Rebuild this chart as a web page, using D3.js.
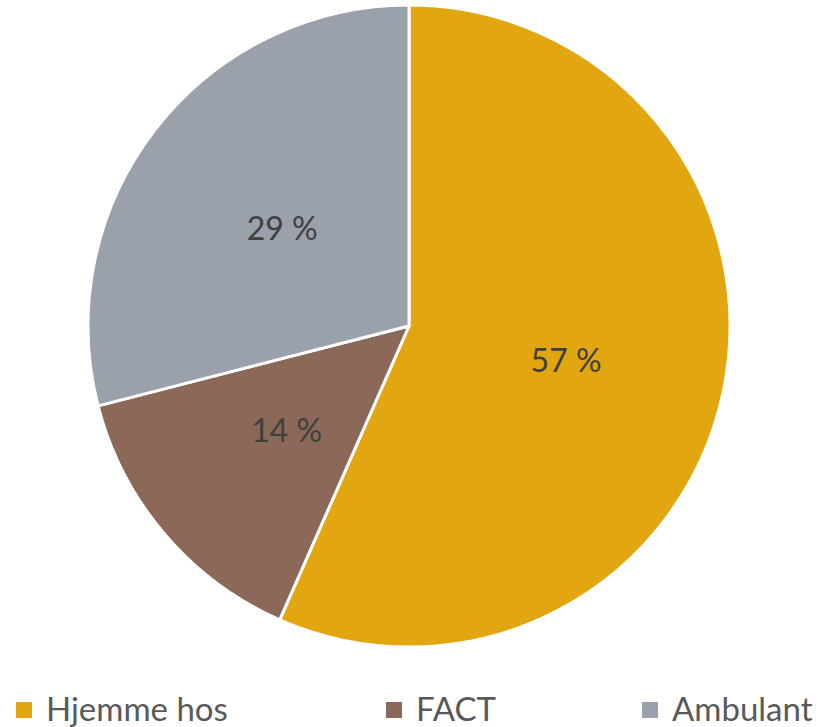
<!DOCTYPE html>
<html>
<head>
<meta charset="utf-8">
<script src="https://cdn.jsdelivr.net/npm/d3@7"></script>
<style>
  html, body { margin: 0; padding: 0; background: #fff; }
  svg { display: block; }
</style>
</head>
<body>
<svg id="chart" width="825" height="727"></svg>
<script>
const categories = ["Hjemme hos", "FACT", "Ambulant"];
const values = [56.6, 14.4, 29.0];
const colors = ["#E2A610", "#8B6858", "#9AA1AB"];

const svg = d3.select("#chart");
const cx = 409, cy = 326, R = 321;
const font = "Lato, 'Open Sans', 'Liberation Sans', sans-serif";

const pie = d3.pie().sort(null).value(d => d.v);
const data = categories.map((c, i) => ({ c, v: values[i], col: colors[i] }));
const arcs = pie(data);
const arc = d3.arc().innerRadius(0).outerRadius(R);
const labelArc = d3.arc().innerRadius(R * 0.5).outerRadius(R * 0.5);

const g = svg.append("g").attr("transform", `translate(${cx},${cy})`);
g.selectAll("path").data(arcs).join("path")
  .attr("d", arc)
  .attr("fill", d => d.data.col)
  .attr("stroke", "#fff")
  .attr("stroke-width", 3)
  .attr("stroke-linejoin", "round");

g.selectAll("text").data(arcs).join("text")
  .attr("transform", d => `translate(${labelArc.centroid(d)})`)
  .attr("text-anchor", "middle")
  .attr("dominant-baseline", "central")
  .attr("font-family", font)
  .attr("font-size", 32)
  .attr("fill", "#404040")
  .text(d => d3.format(".0f")(d.data.v) + " %");

// legend
const legendX = [16, 386, 642];
const lg = svg.append("g");
const items = lg.selectAll("g").data(data).join("g")
  .attr("transform", (d, i) => `translate(${legendX[i]},0)`);
items.append("rect")
  .attr("x", 0).attr("y", 702).attr("width", 16).attr("height", 16)
  .attr("fill", d => d.col);
items.append("text")
  .attr("x", 30).attr("y", 721)
  .attr("font-family", font)
  .attr("font-size", 33)
  .attr("fill", "#595959")
  .text(d => d.c);
</script>
</body>
</html>
